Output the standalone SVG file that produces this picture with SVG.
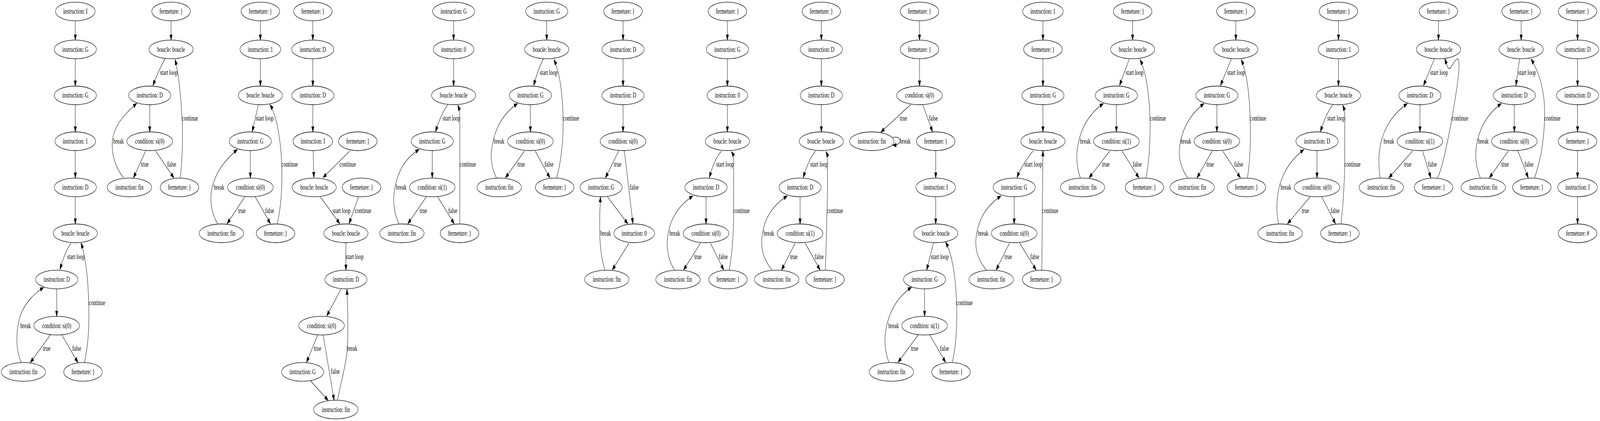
<svg xmlns="http://www.w3.org/2000/svg" width="6305" height="1079" viewBox="0 0 6305 1079" preserveAspectRatio="none" style="width:100vw;height:100vh;display:block">
<style>
ellipse{fill:none;stroke:#000;stroke-width:1.33}
text{font-family:"Liberation Serif","Times New Roman",serif;font-size:18.67px;text-anchor:middle;fill:#000}
#edges path{fill:none;stroke:#000;stroke-width:1.33;marker-end:url(#ah)}
</style>
<defs>
<marker id="ah" markerWidth="14" markerHeight="10" refX="13.3" refY="4.67" orient="auto" markerUnits="userSpaceOnUse" viewBox="0 0 14 10" overflow="visible">
<path d="M0,0 L13.3,4.67 L0,9.33 Z" fill="#000" stroke="#000" stroke-width="1.33"/>
</marker>
</defs>
<rect width="6305" height="1079" fill="#fff"/>
<g id="nodes">
<g id="A1"><ellipse cx="296.8" cy="29.3" rx="78" ry="24"/><text x="296.8" y="35.3">instruction: I</text></g>
<g id="A2"><ellipse cx="296.8" cy="126.6" rx="83" ry="24"/><text x="296.8" y="132.6">instruction: G</text></g>
<g id="A3"><ellipse cx="296.8" cy="244.5" rx="83" ry="24"/><text x="296.8" y="250.5">instruction: G</text></g>
<g id="A4"><ellipse cx="296.8" cy="362" rx="80" ry="24"/><text x="296.8" y="368">instruction: 1</text></g>
<g id="A5"><ellipse cx="296.8" cy="480.3" rx="83" ry="24"/><text x="296.8" y="486.3">instruction: D</text></g>
<g id="A6"><ellipse cx="296.8" cy="598" rx="87" ry="24"/><text x="296.8" y="604">boucle: boucle</text></g>
<g id="A7"><ellipse cx="223.4" cy="716.3" rx="83" ry="24"/><text x="223.4" y="722.3">instruction: D</text></g>
<g id="A8"><ellipse cx="223.4" cy="834.6" rx="90" ry="24"/><text x="223.4" y="840.6">condition: si(0)</text></g>
<g id="A9"><ellipse cx="92.3" cy="953.2" rx="87.5" ry="24"/><text x="92.3" y="959.2">instruction: fin</text></g>
<g id="A10"><ellipse cx="327.2" cy="953.2" rx="76" ry="24"/><text x="327.2" y="959.2">fermeture: }</text></g>

<g id="B1"><ellipse cx="674.1" cy="29.3" rx="76" ry="24"/><text x="674.1" y="35.3">fermeture: }</text></g>
<g id="B2"><ellipse cx="674.1" cy="126.6" rx="87" ry="24"/><text x="674.1" y="132.6">boucle: boucle</text></g>
<g id="B3"><ellipse cx="590" cy="244.5" rx="83" ry="24"/><text x="590" y="250.5">instruction: D</text></g>
<g id="B4"><ellipse cx="590" cy="362" rx="90" ry="24"/><text x="590" y="368">condition: si(0)</text></g>
<g id="B5"><ellipse cx="510.1" cy="480.3" rx="87.5" ry="24"/><text x="510.1" y="486.3">instruction: fin</text></g>
<g id="B6"><ellipse cx="707.3" cy="480.3" rx="76" ry="24"/><text x="707.3" y="486.3">fermeture: }</text></g>

<g id="C1"><ellipse cx="1026" cy="29.3" rx="76" ry="24"/><text x="1026" y="35.3">fermeture: }</text></g>
<g id="C2"><ellipse cx="1026" cy="126.6" rx="80" ry="24"/><text x="1026" y="132.6">instruction: 1</text></g>
<g id="C3"><ellipse cx="1026" cy="244.5" rx="87" ry="24"/><text x="1026" y="250.5">boucle: boucle</text></g>
<g id="C4"><ellipse cx="986.5" cy="362" rx="83" ry="24"/><text x="986.5" y="368">instruction: G</text></g>
<g id="C5"><ellipse cx="986.5" cy="480.3" rx="90" ry="24"/><text x="986.5" y="486.3">condition: si(0)</text></g>
<g id="C6"><ellipse cx="872.5" cy="598" rx="87.5" ry="24"/><text x="872.5" y="604">instruction: fin</text></g>
<g id="C7"><ellipse cx="1086" cy="598" rx="76" ry="24"/><text x="1086" y="604">fermeture: }</text></g>

<g id="D1"><ellipse cx="1232.7" cy="29.3" rx="76" ry="24"/><text x="1232.7" y="35.3">fermeture: }</text></g>
<g id="D2"><ellipse cx="1232.7" cy="126.6" rx="83" ry="24"/><text x="1232.7" y="132.6">instruction: D</text></g>
<g id="D3"><ellipse cx="1232.7" cy="244.5" rx="83" ry="24"/><text x="1232.7" y="250.5">instruction: D</text></g>
<g id="D4"><ellipse cx="1232.7" cy="362" rx="78" ry="24"/><text x="1232.7" y="368">instruction: I</text></g>
<g id="D5"><ellipse cx="1409.8" cy="362" rx="76" ry="24"/><text x="1409.8" y="368">fermeture: }</text></g>
<g id="D6"><ellipse cx="1238.1" cy="480.3" rx="87" ry="24"/><text x="1238.1" y="486.3">boucle: boucle</text></g>
<g id="D7"><ellipse cx="1424.7" cy="480.3" rx="76" ry="24"/><text x="1424.7" y="486.3">fermeture: }</text></g>
<g id="D8"><ellipse cx="1363.1" cy="598" rx="87" ry="24"/><text x="1363.1" y="604">boucle: boucle</text></g>
<g id="D9"><ellipse cx="1363.1" cy="716.3" rx="83" ry="24"/><text x="1363.1" y="722.3">instruction: D</text></g>
<g id="D10"><ellipse cx="1267.1" cy="834.6" rx="90" ry="24"/><text x="1267.1" y="840.6">condition: si(0)</text></g>
<g id="D11"><ellipse cx="1192.4" cy="953.2" rx="83" ry="24"/><text x="1192.4" y="959.2">instruction: G</text></g>
<g id="D12"><ellipse cx="1323.3" cy="1049.7" rx="87.5" ry="24"/><text x="1323.3" y="1055.7">instruction: fin</text></g>

<g id="E1"><ellipse cx="1787.5" cy="29.3" rx="83" ry="24"/><text x="1787.5" y="35.3">instruction: G</text></g>
<g id="E2"><ellipse cx="1787.5" cy="126.6" rx="80" ry="24"/><text x="1787.5" y="132.6">instruction: 0</text></g>
<g id="E3"><ellipse cx="1787.5" cy="244.5" rx="87" ry="24"/><text x="1787.5" y="250.5">boucle: boucle</text></g>
<g id="E4"><ellipse cx="1703.3" cy="362" rx="83" ry="24"/><text x="1703.3" y="368">instruction: G</text></g>
<g id="E5"><ellipse cx="1703.3" cy="480.3" rx="90" ry="24"/><text x="1703.3" y="486.3">condition: si(1)</text></g>
<g id="E6"><ellipse cx="1583.6" cy="598" rx="87.5" ry="24"/><text x="1583.6" y="604">instruction: fin</text></g>
<g id="E7"><ellipse cx="1811.1" cy="598" rx="76" ry="24"/><text x="1811.1" y="604">fermeture: }</text></g>

<g id="F1"><ellipse cx="2154.4" cy="29.3" rx="83" ry="24"/><text x="2154.4" y="35.3">instruction: G</text></g>
<g id="F2"><ellipse cx="2154.4" cy="126.6" rx="87" ry="24"/><text x="2154.4" y="132.6">boucle: boucle</text></g>
<g id="F3"><ellipse cx="2090" cy="244.5" rx="83" ry="24"/><text x="2090" y="250.5">instruction: G</text></g>
<g id="F4"><ellipse cx="2090" cy="362" rx="90" ry="24"/><text x="2090" y="368">condition: si(0)</text></g>
<g id="F5"><ellipse cx="1967.3" cy="480.3" rx="87.5" ry="24"/><text x="1967.3" y="486.3">instruction: fin</text></g>
<g id="F6"><ellipse cx="2185.8" cy="480.3" rx="76" ry="24"/><text x="2185.8" y="486.3">fermeture: }</text></g>

<g id="G1"><ellipse cx="2455.2" cy="29.3" rx="76" ry="24"/><text x="2455.2" y="35.3">fermeture: }</text></g>
<g id="G2"><ellipse cx="2455.2" cy="126.6" rx="83" ry="24"/><text x="2455.2" y="132.6">instruction: D</text></g>
<g id="G3"><ellipse cx="2455.2" cy="244.5" rx="83" ry="24"/><text x="2455.2" y="250.5">instruction: D</text></g>
<g id="G4"><ellipse cx="2455.2" cy="362" rx="90" ry="24"/><text x="2455.2" y="368">condition: si(0)</text></g>
<g id="G5"><ellipse cx="2368.7" cy="480.3" rx="83" ry="24"/><text x="2368.7" y="486.3">instruction: G</text></g>
<g id="G6"><ellipse cx="2499.1" cy="598" rx="80" ry="24"/><text x="2499.1" y="604">instruction: 0</text></g>
<g id="G7"><ellipse cx="2391" cy="716.3" rx="87.5" ry="24"/><text x="2391" y="722.3">instruction: fin</text></g>

<g id="H1"><ellipse cx="2866.4" cy="29.3" rx="76" ry="24"/><text x="2866.4" y="35.3">fermeture: }</text></g>
<g id="H2"><ellipse cx="2866.4" cy="126.6" rx="83" ry="24"/><text x="2866.4" y="132.6">instruction: G</text></g>
<g id="H3"><ellipse cx="2866.4" cy="244.5" rx="80" ry="24"/><text x="2866.4" y="250.5">instruction: 0</text></g>
<g id="H4"><ellipse cx="2866.4" cy="362" rx="87" ry="24"/><text x="2866.4" y="368">boucle: boucle</text></g>
<g id="H5"><ellipse cx="2782.2" cy="480.3" rx="83" ry="24"/><text x="2782.2" y="486.3">instruction: D</text></g>
<g id="H6"><ellipse cx="2782.2" cy="598" rx="90" ry="24"/><text x="2782.2" y="604">condition: si(0)</text></g>
<g id="H7"><ellipse cx="2671.7" cy="716.3" rx="87.5" ry="24"/><text x="2671.7" y="722.3">instruction: fin</text></g>
<g id="H8"><ellipse cx="2868.7" cy="716.3" rx="76" ry="24"/><text x="2868.7" y="722.3">fermeture: }</text></g>

<g id="I1"><ellipse cx="3236.6" cy="29.3" rx="76" ry="24"/><text x="3236.6" y="35.3">fermeture: }</text></g>
<g id="I2"><ellipse cx="3236.6" cy="126.6" rx="83" ry="24"/><text x="3236.6" y="132.6">instruction: D</text></g>
<g id="I3"><ellipse cx="3236.6" cy="244.5" rx="83" ry="24"/><text x="3236.6" y="250.5">instruction: D</text></g>
<g id="I4"><ellipse cx="3236.6" cy="362" rx="87" ry="24"/><text x="3236.6" y="368">boucle: boucle</text></g>
<g id="I5"><ellipse cx="3152.8" cy="480.3" rx="83" ry="24"/><text x="3152.8" y="486.3">instruction: D</text></g>
<g id="I6"><ellipse cx="3152.8" cy="598" rx="90" ry="24"/><text x="3152.8" y="604">condition: si(1)</text></g>
<g id="I7"><ellipse cx="3060.7" cy="716.3" rx="87.5" ry="24"/><text x="3060.7" y="722.3">instruction: fin</text></g>
<g id="I8"><ellipse cx="3251.1" cy="716.3" rx="76" ry="24"/><text x="3251.1" y="722.3">fermeture: }</text></g>

<g id="J1"><ellipse cx="3623.5" cy="29.3" rx="76" ry="24"/><text x="3623.5" y="35.3">fermeture: }</text></g>
<g id="J2"><ellipse cx="3623.5" cy="126.6" rx="76" ry="24"/><text x="3623.5" y="132.6">fermeture: }</text></g>
<g id="J3"><ellipse cx="3623.5" cy="244.5" rx="90" ry="24"/><text x="3623.5" y="250.5">condition: si(0)</text></g>
<g id="J4"><ellipse cx="3435.4" cy="362" rx="87.5" ry="24"/><text x="3435.4" y="368">instruction: fin</text></g>
<g id="J5"><ellipse cx="3687.3" cy="362" rx="76" ry="24"/><text x="3687.3" y="368">fermeture: }</text></g>
<g id="J6"><ellipse cx="3687.3" cy="480.3" rx="78" ry="24"/><text x="3687.3" y="486.3">instruction: I</text></g>
<g id="J7"><ellipse cx="3687.3" cy="598" rx="87" ry="24"/><text x="3687.3" y="604">boucle: boucle</text></g>
<g id="J8"><ellipse cx="3643.4" cy="716.3" rx="83" ry="24"/><text x="3643.4" y="722.3">instruction: G</text></g>
<g id="J9"><ellipse cx="3643.4" cy="834.6" rx="90" ry="24"/><text x="3643.4" y="840.6">condition: si(1)</text></g>
<g id="J10"><ellipse cx="3512.8" cy="953.2" rx="87.5" ry="24"/><text x="3512.8" y="959.2">instruction: fin</text></g>
<g id="J11"><ellipse cx="3747.5" cy="953.2" rx="76" ry="24"/><text x="3747.5" y="959.2">fermeture: }</text></g>

<g id="K1"><ellipse cx="4109.8" cy="29.3" rx="80" ry="24"/><text x="4109.8" y="35.3">instruction: 1</text></g>
<g id="K2"><ellipse cx="4109.8" cy="126.6" rx="76" ry="24"/><text x="4109.8" y="132.6">fermeture: }</text></g>
<g id="K3"><ellipse cx="4109.8" cy="244.5" rx="83" ry="24"/><text x="4109.8" y="250.5">instruction: G</text></g>
<g id="K4"><ellipse cx="4109.8" cy="362" rx="87" ry="24"/><text x="4109.8" y="368">boucle: boucle</text></g>
<g id="K5"><ellipse cx="3996.6" cy="480.3" rx="83" ry="24"/><text x="3996.6" y="486.3">instruction: G</text></g>
<g id="K6"><ellipse cx="3996.6" cy="598" rx="90" ry="24"/><text x="3996.6" y="604">condition: si(0)</text></g>
<g id="K7"><ellipse cx="3906" cy="716.3" rx="87.5" ry="24"/><text x="3906" y="722.3">instruction: fin</text></g>
<g id="K8"><ellipse cx="4104.7" cy="716.3" rx="76" ry="24"/><text x="4104.7" y="722.3">fermeture: }</text></g>

<g id="L1"><ellipse cx="4463.2" cy="29.3" rx="76" ry="24"/><text x="4463.2" y="35.3">fermeture: }</text></g>
<g id="L2"><ellipse cx="4463.2" cy="126.6" rx="87" ry="24"/><text x="4463.2" y="132.6">boucle: boucle</text></g>
<g id="L3"><ellipse cx="4399.3" cy="244.5" rx="83" ry="24"/><text x="4399.3" y="250.5">instruction: G</text></g>
<g id="L4"><ellipse cx="4399.3" cy="362" rx="90" ry="24"/><text x="4399.3" y="368">condition: si(1)</text></g>
<g id="L5"><ellipse cx="4265.8" cy="480.3" rx="87.5" ry="24"/><text x="4265.8" y="486.3">instruction: fin</text></g>
<g id="L6"><ellipse cx="4509.8" cy="480.3" rx="76" ry="24"/><text x="4509.8" y="486.3">fermeture: }</text></g>

<g id="M1"><ellipse cx="4870" cy="29.3" rx="76" ry="24"/><text x="4870" y="35.3">fermeture: }</text></g>
<g id="M2"><ellipse cx="4870" cy="126.6" rx="87" ry="24"/><text x="4870" y="132.6">boucle: boucle</text></g>
<g id="M3"><ellipse cx="4795.3" cy="244.5" rx="83" ry="24"/><text x="4795.3" y="250.5">instruction: G</text></g>
<g id="M4"><ellipse cx="4795.3" cy="362" rx="90" ry="24"/><text x="4795.3" y="368">condition: si(0)</text></g>
<g id="M5"><ellipse cx="4697.9" cy="480.3" rx="87.5" ry="24"/><text x="4697.9" y="486.3">instruction: fin</text></g>
<g id="M6"><ellipse cx="4911.5" cy="480.3" rx="76" ry="24"/><text x="4911.5" y="486.3">fermeture: }</text></g>

<g id="N1"><ellipse cx="5274.4" cy="29.3" rx="76" ry="24"/><text x="5274.4" y="35.3">fermeture: }</text></g>
<g id="N2"><ellipse cx="5274.4" cy="126.6" rx="80" ry="24"/><text x="5274.4" y="132.6">instruction: 1</text></g>
<g id="N3"><ellipse cx="5274.4" cy="244.5" rx="87" ry="24"/><text x="5274.4" y="250.5">boucle: boucle</text></g>
<g id="N4"><ellipse cx="5189.8" cy="362" rx="83" ry="24"/><text x="5189.8" y="368">instruction: D</text></g>
<g id="N5"><ellipse cx="5189.8" cy="480.3" rx="90" ry="24"/><text x="5189.8" y="486.3">condition: si(0)</text></g>
<g id="N6"><ellipse cx="5044.7" cy="598" rx="87.5" ry="24"/><text x="5044.7" y="604">instruction: fin</text></g>
<g id="N7"><ellipse cx="5280.1" cy="598" rx="76" ry="24"/><text x="5280.1" y="604">fermeture: }</text></g>

<g id="O1"><ellipse cx="5668.5" cy="29.3" rx="76" ry="24"/><text x="5668.5" y="35.3">fermeture: }</text></g>
<g id="O2"><ellipse cx="5668.5" cy="126.6" rx="87" ry="24"/><text x="5668.5" y="132.6">boucle: boucle</text></g>
<g id="O3"><ellipse cx="5595.5" cy="244.5" rx="83" ry="24"/><text x="5595.5" y="250.5">instruction: D</text></g>
<g id="O4"><ellipse cx="5595.5" cy="362" rx="90" ry="24"/><text x="5595.5" y="368">condition: si(1)</text></g>
<g id="O5"><ellipse cx="5443.4" cy="480.3" rx="87.5" ry="24"/><text x="5443.4" y="486.3">instruction: fin</text></g>
<g id="O6"><ellipse cx="5648.9" cy="480.3" rx="76" ry="24"/><text x="5648.9" y="486.3">fermeture: }</text></g>

<g id="P1"><ellipse cx="5994.3" cy="29.3" rx="76" ry="24"/><text x="5994.3" y="35.3">fermeture: }</text></g>
<g id="P2"><ellipse cx="5994.3" cy="126.6" rx="87" ry="24"/><text x="5994.3" y="132.6">boucle: boucle</text></g>
<g id="P3"><ellipse cx="5967.4" cy="244.5" rx="83" ry="24"/><text x="5967.4" y="250.5">instruction: D</text></g>
<g id="P4"><ellipse cx="5967.4" cy="362" rx="90" ry="24"/><text x="5967.4" y="368">condition: si(0)</text></g>
<g id="P5"><ellipse cx="5845" cy="480.3" rx="87.5" ry="24"/><text x="5845" y="486.3">instruction: fin</text></g>
<g id="P6"><ellipse cx="6036.4" cy="480.3" rx="76" ry="24"/><text x="6036.4" y="486.3">fermeture: }</text></g>

<g id="Q1"><ellipse cx="6216.6" cy="29.3" rx="76" ry="24"/><text x="6216.6" y="35.3">fermeture: }</text></g>
<g id="Q2"><ellipse cx="6216.6" cy="126.6" rx="83" ry="24"/><text x="6216.6" y="132.6">instruction: D</text></g>
<g id="Q3"><ellipse cx="6216.6" cy="244.5" rx="83" ry="24"/><text x="6216.6" y="250.5">instruction: D</text></g>
<g id="Q4"><ellipse cx="6216.6" cy="362" rx="76" ry="24"/><text x="6216.6" y="368">fermeture: }</text></g>
<g id="Q5"><ellipse cx="6216.6" cy="480.3" rx="78" ry="24"/><text x="6216.6" y="486.3">instruction: I</text></g>
<g id="Q6"><ellipse cx="6216.6" cy="598" rx="76" ry="24"/><text x="6216.6" y="604">fermeture: #</text></g>
</g>

<g id="edges">
<path d="M296.8,53.3V102.6"/><path d="M296.8,150.6V220.5"/><path d="M296.8,268.5V338"/><path d="M296.8,386V456.3"/><path d="M296.8,504.3V574"/>
<path d="M280.5,622.8 Q257,643 236.6,690.2"/>
<path d="M223.4,740.3V810.6"/>
<path d="M198.8,858.1 L120,929"/>
<path d="M243.4,858.1 L306.9,929"/>
<path d="M83.8,929 C62,900 63,855 75,820 C90,780 135,752 171.7,737"/>
<path d="M332.9,929 C346,890 352,840 350,790 C348,720 340,665 319.4,622.8"/>

<path d="M674.1,53.3V102.6"/>
<path d="M651.8,150 Q630.7,171.6 602.8,218.8"/>
<path d="M590,268.5V338"/>
<path d="M574.1,386.7 L526.1,455.6"/>
<path d="M613,386.7 L685,455.6"/>
<path d="M486.7,455.6 C455,430 438,395 443,360 C450,320 495,290 538.6,265"/>
<path d="M711,455.6 C718,410 722,350 717,300 C714,260 706,195 690,152.8"/>

<path d="M1026,53.3V102.6"/><path d="M1026,150.6V220.5"/>
<path d="M1017.9,268.4 L994.2,337.2"/>
<path d="M986.5,386.4V456.3"/>
<path d="M964.5,504.4 L895.2,573.2"/>
<path d="M1005.7,504.4 L1065.4,573"/>
<path d="M858,573.2 C830,545 825,505 838,475 C855,435 895,405 935.1,383.3"/>
<path d="M1092.4,573.2 C1105,540 1112,490 1111,440 C1110,380 1095,300 1063.7,268.4"/>

<path d="M1232.7,53.3V102.6"/><path d="M1232.7,150.6V220.5"/><path d="M1232.7,268.5V338"/>
<path d="M1234,386.7 L1236.7,455"/>
<path d="M1379,386.7 L1273.2,455"/>
<path d="M1262.1,504.4 L1338.8,573"/>
<path d="M1412.8,504.4 L1375.6,573"/>
<path d="M1363.1,622V692.3"/>
<path d="M1343.5,741.1 L1287.8,809.5"/>
<path d="M1252.3,858.1 L1208,928.5"/>
<path d="M1273.2,858.1 L1316.5,1025.7"/>
<path d="M1222.5,975.1 L1292.8,1026"/>
<path d="M1330,1025.3 C1340,990 1357,950 1365,915 C1375,870 1370,790 1367.2,741.5"/>

<path d="M1787.5,53.3V102.6"/><path d="M1787.5,150.6V220.5"/>
<path d="M1764.5,268.4 Q1737.9,291.8 1716.2,337.2"/>
<path d="M1703.3,386.4V456.3"/>
<path d="M1680,504.4 L1607.3,573.2"/>
<path d="M1724.6,504.4 L1789.8,573.2"/>
<path d="M1571.8,573.2 C1555,550 1548,520 1553,495 C1565,430 1610,400 1651.3,383.3"/>
<path d="M1811.8,573.2 L1812,305 C1812,290 1810,280 1804,269.8"/>

<path d="M2154.4,53.3V102.6"/>
<path d="M2141.5,150 Q2120,178 2103,218.8"/>
<path d="M2090,268.5V338"/>
<path d="M2067,386.7 L1992,455.6"/>
<path d="M2108.7,386.7 L2166.9,455.6"/>
<path d="M1956.1,455.6 C1938,432 1932,405 1938,380 C1950,320 1995,285 2039.3,265.6"/>
<path d="M2193.2,455.6 C2210,420 2220,360 2219,310 C2218,240 2205,185 2183.1,152.8"/>

<path d="M2455.2,53.3V102.6"/><path d="M2455.2,150.6V220.5"/><path d="M2455.2,268.5V338"/>
<path d="M2438.3,386.7 L2385.9,455.6"/>
<path d="M2460.3,386.7 L2494.1,573"/>
<path d="M2393.7,504.4 L2473.8,573.5"/>
<path d="M2478.9,622.8 L2412.9,691.8"/>
<path d="M2383.5,691.6 C2372,668 2366,640 2364,610 C2362,570 2364,530 2366.6,504.5"/>

<path d="M2866.4,53.3V102.6"/><path d="M2866.4,150.6V220.5"/><path d="M2866.4,268.5V338"/>
<path d="M2844,386.7 Q2816,405 2795.4,455"/>
<path d="M2782.2,504.3V574"/>
<path d="M2760.6,622.8 L2694,691.8"/>
<path d="M2799.4,622.8 L2851.8,691.8"/>
<path d="M2657.5,691.6 C2635,668 2626,640 2630,612 C2640,550 2690,520 2730.1,502.3"/>
<path d="M2873.8,691.6 C2885,650 2891,600 2891,540 L2891,420 C2891,405 2888,395 2882.2,388.8"/>

<path d="M3236.6,53.3V102.6"/><path d="M3236.6,150.6V220.5"/><path d="M3236.6,268.5V338"/>
<path d="M3214.6,386.7 Q3186,408 3165.6,455"/>
<path d="M3152.8,504.3V574"/>
<path d="M3133.5,622.8 L3080,691.8"/>
<path d="M3172.4,622.8 L3231.5,691.8"/>
<path d="M3042.1,691.6 C3012,668 2998,640 3002,612 C3010,550 3060,520 3102,502.3"/>
<path d="M3252.5,691.6 C3255,640 3259,560 3261,480 L3261,415 C3261,402 3259,395 3255.2,388.8"/>

<path d="M3623.5,53.3V102.6"/><path d="M3623.5,150.6V220.5"/>
<path d="M3588.1,268.4 L3471.5,338.5"/>
<path d="M3636.5,268.5 L3674.8,337.5"/>
<path d="M3518,352.5 C3552,346 3562,372 3518,372"/>
<path d="M3687.3,386.4V456.3"/><path d="M3687.3,504.3V574"/>
<path d="M3678.2,622.8 L3651.8,692"/>
<path d="M3643.4,740.3V810.6"/>
<path d="M3618.6,858.1 L3539.1,928.5"/>
<path d="M3663.7,858.1 L3726.2,928.5"/>
<path d="M3503.6,929 C3488,905 3484,875 3490,850 C3502,790 3550,755 3591.5,736.3"/>
<path d="M3753.2,927.6 C3766,890 3772,840 3770,790 C3768,720 3755,655 3726.2,620.5"/>

<path d="M4109.8,53.3V102.6"/><path d="M4109.8,150.6V220.5"/><path d="M4109.8,268.5V338"/>
<path d="M4071,386.7 Q4023.4,426 4007.8,455"/>
<path d="M3996.6,504.3V574"/>
<path d="M3978,622.8 L3925.6,691.8"/>
<path d="M4017.9,622.8 L4082.8,691.8"/>
<path d="M3886.7,691.6 C3855,668 3842,640 3846,612 C3855,550 3905,520 3944.2,502.3"/>
<path d="M4105.4,691.6 L4109.8,386.7"/>

<path d="M4463.2,53.3V102.6"/>
<path d="M4450.7,150 L4411.8,218.8"/>
<path d="M4399.3,268.5V338"/>
<path d="M4373.6,386.7 L4291.8,455.6"/>
<path d="M4421,386.7 L4487.9,455.6"/>
<path d="M4257.3,455.6 C4244,432 4240,405 4246,380 C4258,320 4305,285 4347.6,265.6"/>
<path d="M4515.6,455.6 C4528,420 4533,360 4532,320 C4531,240 4515,185 4492.9,152.8"/>

<path d="M4870,53.3V102.6"/>
<path d="M4853.1,150 L4809.5,218.8"/>
<path d="M4795.3,268.5V338"/>
<path d="M4777,386.7 L4717.2,455.6"/>
<path d="M4817.9,386.7 L4887.9,455.6"/>
<path d="M4679.5,455.6 C4655,432 4644,405 4648,380 C4658,320 4705,285 4744.2,265.6"/>
<path d="M4915.6,455.6 C4925,420 4929,360 4927,320 C4925,240 4912,185 4891.3,152.8"/>

<path d="M5274.4,53.3V102.6"/><path d="M5274.4,150.6V220.5"/>
<path d="M5252.4,268.4 Q5226.1,289.2 5203.4,337.2"/>
<path d="M5189.8,386.4V456.3"/>
<path d="M5162.7,504.4 L5073.8,573.2"/>
<path d="M5208.5,504.4 L5262.5,573.2"/>
<path d="M5038.3,573.2 C5030,548 5030,520 5036,495 C5050,440 5095,405 5138,383.3"/>
<path d="M5284.5,573.2 C5292,530 5298,470 5299,420 L5299.5,300 C5299,288 5296,278 5291.3,269.8"/>

<path d="M5668.5,53.3V102.6"/>
<path d="M5652.9,150 L5609.7,218.8"/>
<path d="M5595.5,268.5V338"/>
<path d="M5566.7,386.7 L5473.1,455.6"/>
<path d="M5605.6,386.7 L5638.4,455.6"/>
<path d="M5438.3,455.6 C5432,425 5432,395 5440,370 C5458,315 5505,285 5545.4,265.6"/>
<path d="M5664.8,455.6 C5685,430 5712,340 5725,290 C5738,240 5752,185 5749,158 C5746,140 5730,160 5718,172 C5708,182 5704,172 5693.5,150.5"/>

<path d="M5994.3,53.3V102.6"/>
<path d="M5987.9,151.4 L5973.7,219"/>
<path d="M5967.4,268.5V338"/>
<path d="M5943.9,386.7 L5869.3,455.6"/>
<path d="M5981.2,386.7 L6022.2,455.6"/>
<path d="M5833.1,455.6 C5818,432 5812,405 5817,380 C5828,320 5875,285 5915.9,265.6"/>
<path d="M6047.6,455.6 C6060,430 6070,405 6075,385 C6085,340 6090,300 6085,260 C6078,210 6055,175 6033.4,151.4"/>

<path d="M6216.6,53.3V102.6"/><path d="M6216.6,150.6V220.5"/><path d="M6216.6,268.5V338"/><path d="M6216.6,386V456.3"/><path d="M6216.6,504.3V574"/>

<g id="edge-labels">
<text x="299" y="664">start loop</text><text x="184.2" y="899.3">true</text><text x="302.5" y="899.3">false</text><text x="100.7" y="840.6">break</text><text x="382" y="781.6">continue</text>
<text x="665.3" y="191.8">start loop</text><text x="748.2" y="309.5">continue</text><text x="570.7" y="427.2">true</text><text x="676.5" y="427.2">false</text><text x="466.5" y="368">break</text>
<text x="1043" y="309.5">start loop</text><text x="1141.4" y="427.2">continue</text><text x="953" y="545.6">true</text><text x="1062.3" y="545.6">false</text><text x="863" y="486.3">break</text>
<text x="1370.2" y="427.2">continue</text><text x="1345.9" y="545.6">start loop</text><text x="1430.4" y="545.6">continue</text><text x="1397.3" y="664">start loop</text><text x="1251.3" y="899.3">true</text><text x="1321.2" y="958.5">false</text><text x="1387.1" y="899.3">break</text>
<text x="1779" y="309.5">start loop</text><text x="1843.3" y="427.2">continue</text><text x="1581" y="486.3">break</text><text x="1668.2" y="545.6">true</text><text x="1784.4" y="545.6">false</text>
<text x="2162.1" y="191.8">start loop</text><text x="2250" y="309.5">continue</text><text x="1966.6" y="368">break</text><text x="2053.8" y="427.2">true</text><text x="2163.5" y="427.2">false</text>
<text x="2433.9" y="427.2">true</text><text x="2499.1" y="486.3">false</text><text x="2386.6" y="604">break</text>
<text x="2856.9" y="427.2">start loop</text><text x="2921.8" y="545.6">continue</text><text x="2658.8" y="604">break</text><text x="2750.1" y="664">true</text><text x="2850.1" y="664">false</text>
<text x="3227.5" y="427.2">start loop</text><text x="3290" y="545.6">continue</text><text x="3029.6" y="604">break</text><text x="3128" y="664">true</text><text x="3228.2" y="664">false</text>
<text x="3560.1" y="309.5">true</text><text x="3678.2" y="309.5">false</text><text x="3567" y="368">break</text><text x="3703.2" y="664">start loop</text><text x="3521.2" y="840.6">break</text><text x="3604" y="899.3">true</text><text x="3722.1" y="899.3">false</text><text x="3800.6" y="781.6">continue</text>
<text x="4072" y="427.2">start loop</text><text x="4137.9" y="545.6">continue</text><text x="3873.9" y="604">break</text><text x="3973.3" y="664">true</text><text x="4077" y="664">false</text>
<text x="4471" y="191.8">start loop</text><text x="4562.9" y="309.5">continue</text><text x="4276.6" y="368">break</text><text x="4357.7" y="427.2">true</text><text x="4481.1" y="427.2">false</text>
<text x="4871" y="191.8">start loop</text><text x="4957.2" y="309.5">continue</text><text x="4673" y="368">break</text><text x="4768.9" y="427.2">true</text><text x="4881.1" y="427.2">false</text>
<text x="5265.2" y="309.5">start loop</text><text x="5329.1" y="427.2">continue</text><text x="5067" y="486.3">break</text><text x="5144.1" y="545.6">true</text><text x="5260.8" y="545.6">false</text>
<text x="5670.8" y="191.8">start loop</text><text x="5472.8" y="368">break</text><text x="5547.1" y="427.2">true</text><text x="5644.5" y="427.2">false</text><text x="5753" y="309.5">continue</text>
<text x="6017.4" y="191.8">start loop</text><text x="6117" y="309.5">continue</text><text x="5845" y="368">break</text><text x="5930.8" y="427.2">true</text><text x="6025.2" y="427.2">false</text>
</g>
</g>
</svg>
